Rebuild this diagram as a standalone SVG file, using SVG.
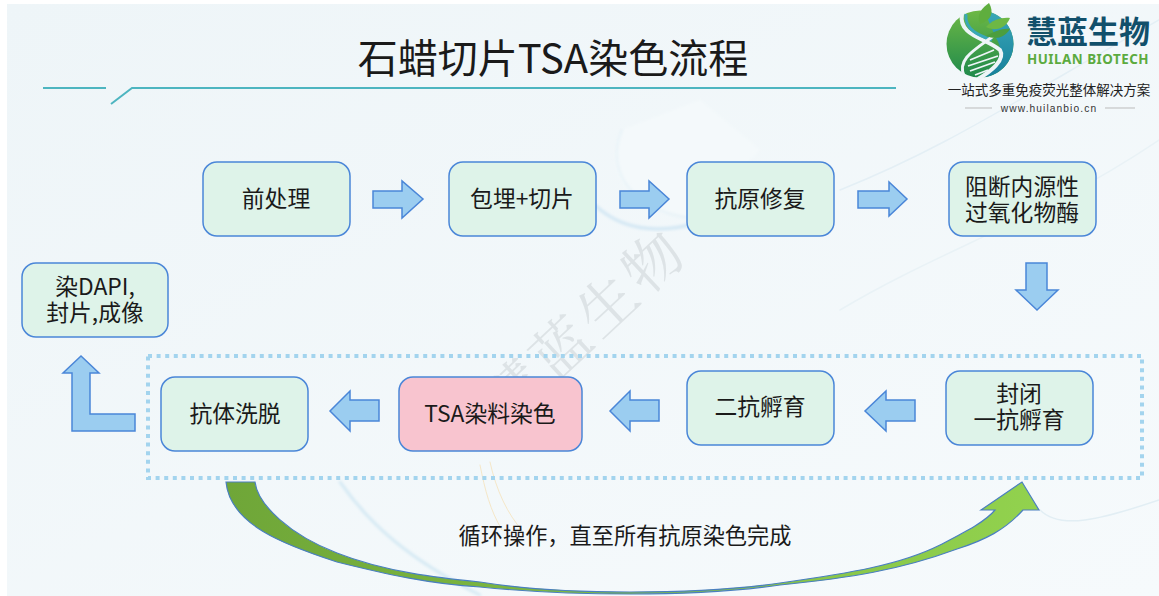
<svg xmlns="http://www.w3.org/2000/svg" width="1159" height="596" viewBox="0 0 1159 596">
<style>
text{font-family:"Noto Sans CJK SC","Noto Sans",sans-serif;fill:#1a1a1a;text-anchor:middle}
.n rect{fill:#def3e9;stroke:#4a86d8;stroke-width:1.5}
.n text{font-size:22.8px}
.a{fill:#9bcdf0;stroke:#4a86d8;stroke-width:1.5}
.w{fill:none;stroke-linecap:round}
</style>
<defs>
<linearGradient id="bg" x1="0" y1="0" x2="1" y2="1"><stop offset="0" stop-color="#eef5f8"/><stop offset="1" stop-color="#f6fafc"/></linearGradient>
<linearGradient id="g" x1="0" y1="0" x2="1" y2="0"><stop offset="0" stop-color="#6fa638"/><stop offset="1" stop-color="#92d24e"/></linearGradient>
<linearGradient id="lg" x1="0" y1="0" x2="0" y2="1"><stop offset="0" stop-color="#6db845"/><stop offset="1" stop-color="#1f8a4c"/></linearGradient>
<linearGradient id="lt" x1="0" y1="0" x2="0" y2="1"><stop offset="0" stop-color="#3aa8b8"/><stop offset="1" stop-color="#17809c"/></linearGradient>
<filter id="soft"><feGaussianBlur stdDeviation="1.6"/></filter>
</defs>
<rect width="1159" height="596" fill="#fff"/>
<rect x="7" y="4" width="1152" height="592" fill="url(#bg)"/>
<g id="backdrop">
<path d="M622 130C600 170 630 212 690 218L760 150L700 100Z" fill="#f4f9fb" filter="url(#soft)"/>
<path class="w" d="M596 206C620 228 655 236 700 222" stroke="#cfe5f3" stroke-width="3" filter="url(#soft)"/>
<path class="w" d="M622 130C604 170 632 210 690 218" stroke="#e2eff6" stroke-width="1.5" filter="url(#soft)"/>
<path class="w" d="M840 190C940 150 1000 110 1159 20" stroke="#e4eff5" stroke-width="1.5"/>
<path class="w" d="M840 310C940 250 1040 220 1159 140" stroke="#e9f2f6" stroke-width="1.5"/>
<path class="w" d="M340 482C370 525 410 560 480 595" stroke="#cfe6f2" stroke-width="2.5" filter="url(#soft)"/>
<path class="w" d="M1159 500C1100 520 1060 530 1040 510" stroke="#e2eef4" stroke-width="1.5"/>
<path class="w" d="M480 465C485 490 490 510 502 530M490 462C496 490 508 515 522 530" stroke="#f5e7c8" stroke-width="1"/>
<text x="0" y="0" transform="translate(600 340) rotate(-43)" style="font-family:'Noto Serif CJK SC','Noto Sans CJK SC',serif;font-size:58px;fill:#dde3e6;letter-spacing:5px">慧蓝生物</text>
</g>
<g id="title">
<text x="553" y="73" font-size="40px">石蜡切片TSA染色流程</text>
<path d="M43 88H106M111 104L132 88H896" fill="none" stroke="#4db5c0" stroke-width="2"/>
</g>
<g id="logo">
<circle cx="980" cy="44" r="33.5" fill="url(#lg)"/>
<path d="M984 10.7A33.5 33.5 0 0 1 1013.5 44A33.5 33.5 0 0 1 985 77C1000 62 1004 50 996 38Z" fill="url(#lt)"/>
<path d="M962 14C958 36 986 38 1000 50C1006 60 990 72 978 79" fill="none" stroke="#eef5f8" stroke-width="4"/>
<path d="M966 14C964 30 980 36 992 40" fill="none" stroke="#3aa8b8" stroke-width="3"/>
<path d="M964 76C956 58 978 48 996 34" fill="none" stroke="#eef5f8" stroke-width="3"/>
<path d="M980 24C976 14 982 8 989 3C994 12 992 20 980 24Z" fill="#5fae3e"/>
<path d="M986 27C992 20 1002 17 1010 18C1006 28 996 32 986 27Z" fill="#6db845"/>
<path d="M986 36C994 32 1002 28 1010 29C1004 38 996 40 986 36Z" fill="#4c9e3e"/>
<path d="M970 60L994 50M968 66L998 56M970 71L995 62M975 75L988 70" stroke="#eef5f8" stroke-width="1.8"/>
<text x="1088" y="43" font-size="31px" font-weight="700" style="fill:#12506b">慧蓝生物</text>
<text x="1088" y="64" font-size="13.4px" font-weight="700" style="font-family:'Noto Sans',sans-serif;fill:#5cab3f;letter-spacing:.5px">HUILAN BIOTECH</text>
<text x="1049" y="95" font-size="13.5px" style="fill:#222">一站式多重免疫荧光整体解决方案</text>
<text x="1049" y="112" font-size="10.2px" style="font-family:'Liberation Sans',sans-serif;fill:#333;letter-spacing:1.1px">www.huilanbio.cn</text>
<path d="M965 108H992M1105 108H1135" stroke="#bbb" stroke-width="1"/>
</g>
<g id="connectors">
<rect x="148" y="356" width="994" height="122" fill="none" stroke="#a3d4ee" stroke-width="4" stroke-dasharray="4 4.6"/>
<path class="a" d="M373 191H402V181L423 199L402 218V208H373Z"/>
<path class="a" d="M620 191H649V181L669 199L649 218V208H620Z"/>
<path class="a" d="M858 191H889V182L907 199L889 216V208H858Z"/>
<path class="a" d="M1026 263H1047V290L1058 290L1037 310L1016 290H1026Z"/>
<path class="a" d="M915 400H886V391L865 411L886 431V421H915Z"/>
<path class="a" d="M659 400H630V391L610 411L630 431V421H659Z"/>
<path class="a" d="M379 400H350V391L330 411L350 431V421H379Z"/>
<path class="a" d="M135 431H72V373H63L81 356L99 373H90V414H135Z"/>
<path fill="url(#g)" stroke="#4a7fc0" stroke-width="1.2" d="M226 482H255C258 505 290 535 337 553C385 572 440 578 480 582C530 590 590 592 630 592C680 592 730 590 780 583C850 573 900 565 940 545C965 532 985 522 995 510H981L1022 482L1039 510H1023C1005 530 985 540 957 549C900 570 850 578 780 585C730 592 680 594 630 594C590 594 530 592 480 587C430 584 385 574 337 562C285 545 230 525 226 482Z"/>
</g>
<g id="n1" class="n"><rect x="203" y="162" width="147" height="74" rx="14"/><text x="276" y="207">前处理</text></g>
<g id="n2" class="n"><rect x="449" y="162" width="147" height="74" rx="14"/><text x="522" y="207">包埋+切片</text></g>
<g id="n3" class="n"><rect x="687" y="162" width="147" height="74" rx="14"/><text x="760" y="207">抗原修复</text></g>
<g id="n4" class="n"><rect x="949" y="162" width="147" height="74" rx="14"/><text x="1022" y="195">阻断内源性<tspan x="1022" dy="26">过氧化物酶</tspan></text></g>
<g id="n5" class="n"><rect x="946" y="371" width="147" height="74" rx="14"/><text x="1019" y="402">封闭<tspan x="1019" dy="26">一抗孵育</tspan></text></g>
<g id="n6" class="n"><rect x="687" y="371" width="147" height="74" rx="14"/><text x="760" y="415">二抗孵育</text></g>
<g id="n7" class="n"><rect x="399" y="377" width="183" height="74" rx="14" style="fill:#f8c4cf"/><text x="490" y="422">TSA染料染色</text></g>
<g id="n8" class="n"><rect x="161" y="377" width="147" height="74" rx="14"/><text x="235" y="422">抗体洗脱</text></g>
<g id="n9" class="n"><rect x="22" y="263" width="146" height="74" rx="14"/><text x="95" y="295">染DAPI,<tspan x="95" dy="26">封片,成像</tspan></text></g>
<text id="loop" x="625" y="544" font-size="22.2px">循环操作，直至所有抗原染色完成</text>
</svg>
